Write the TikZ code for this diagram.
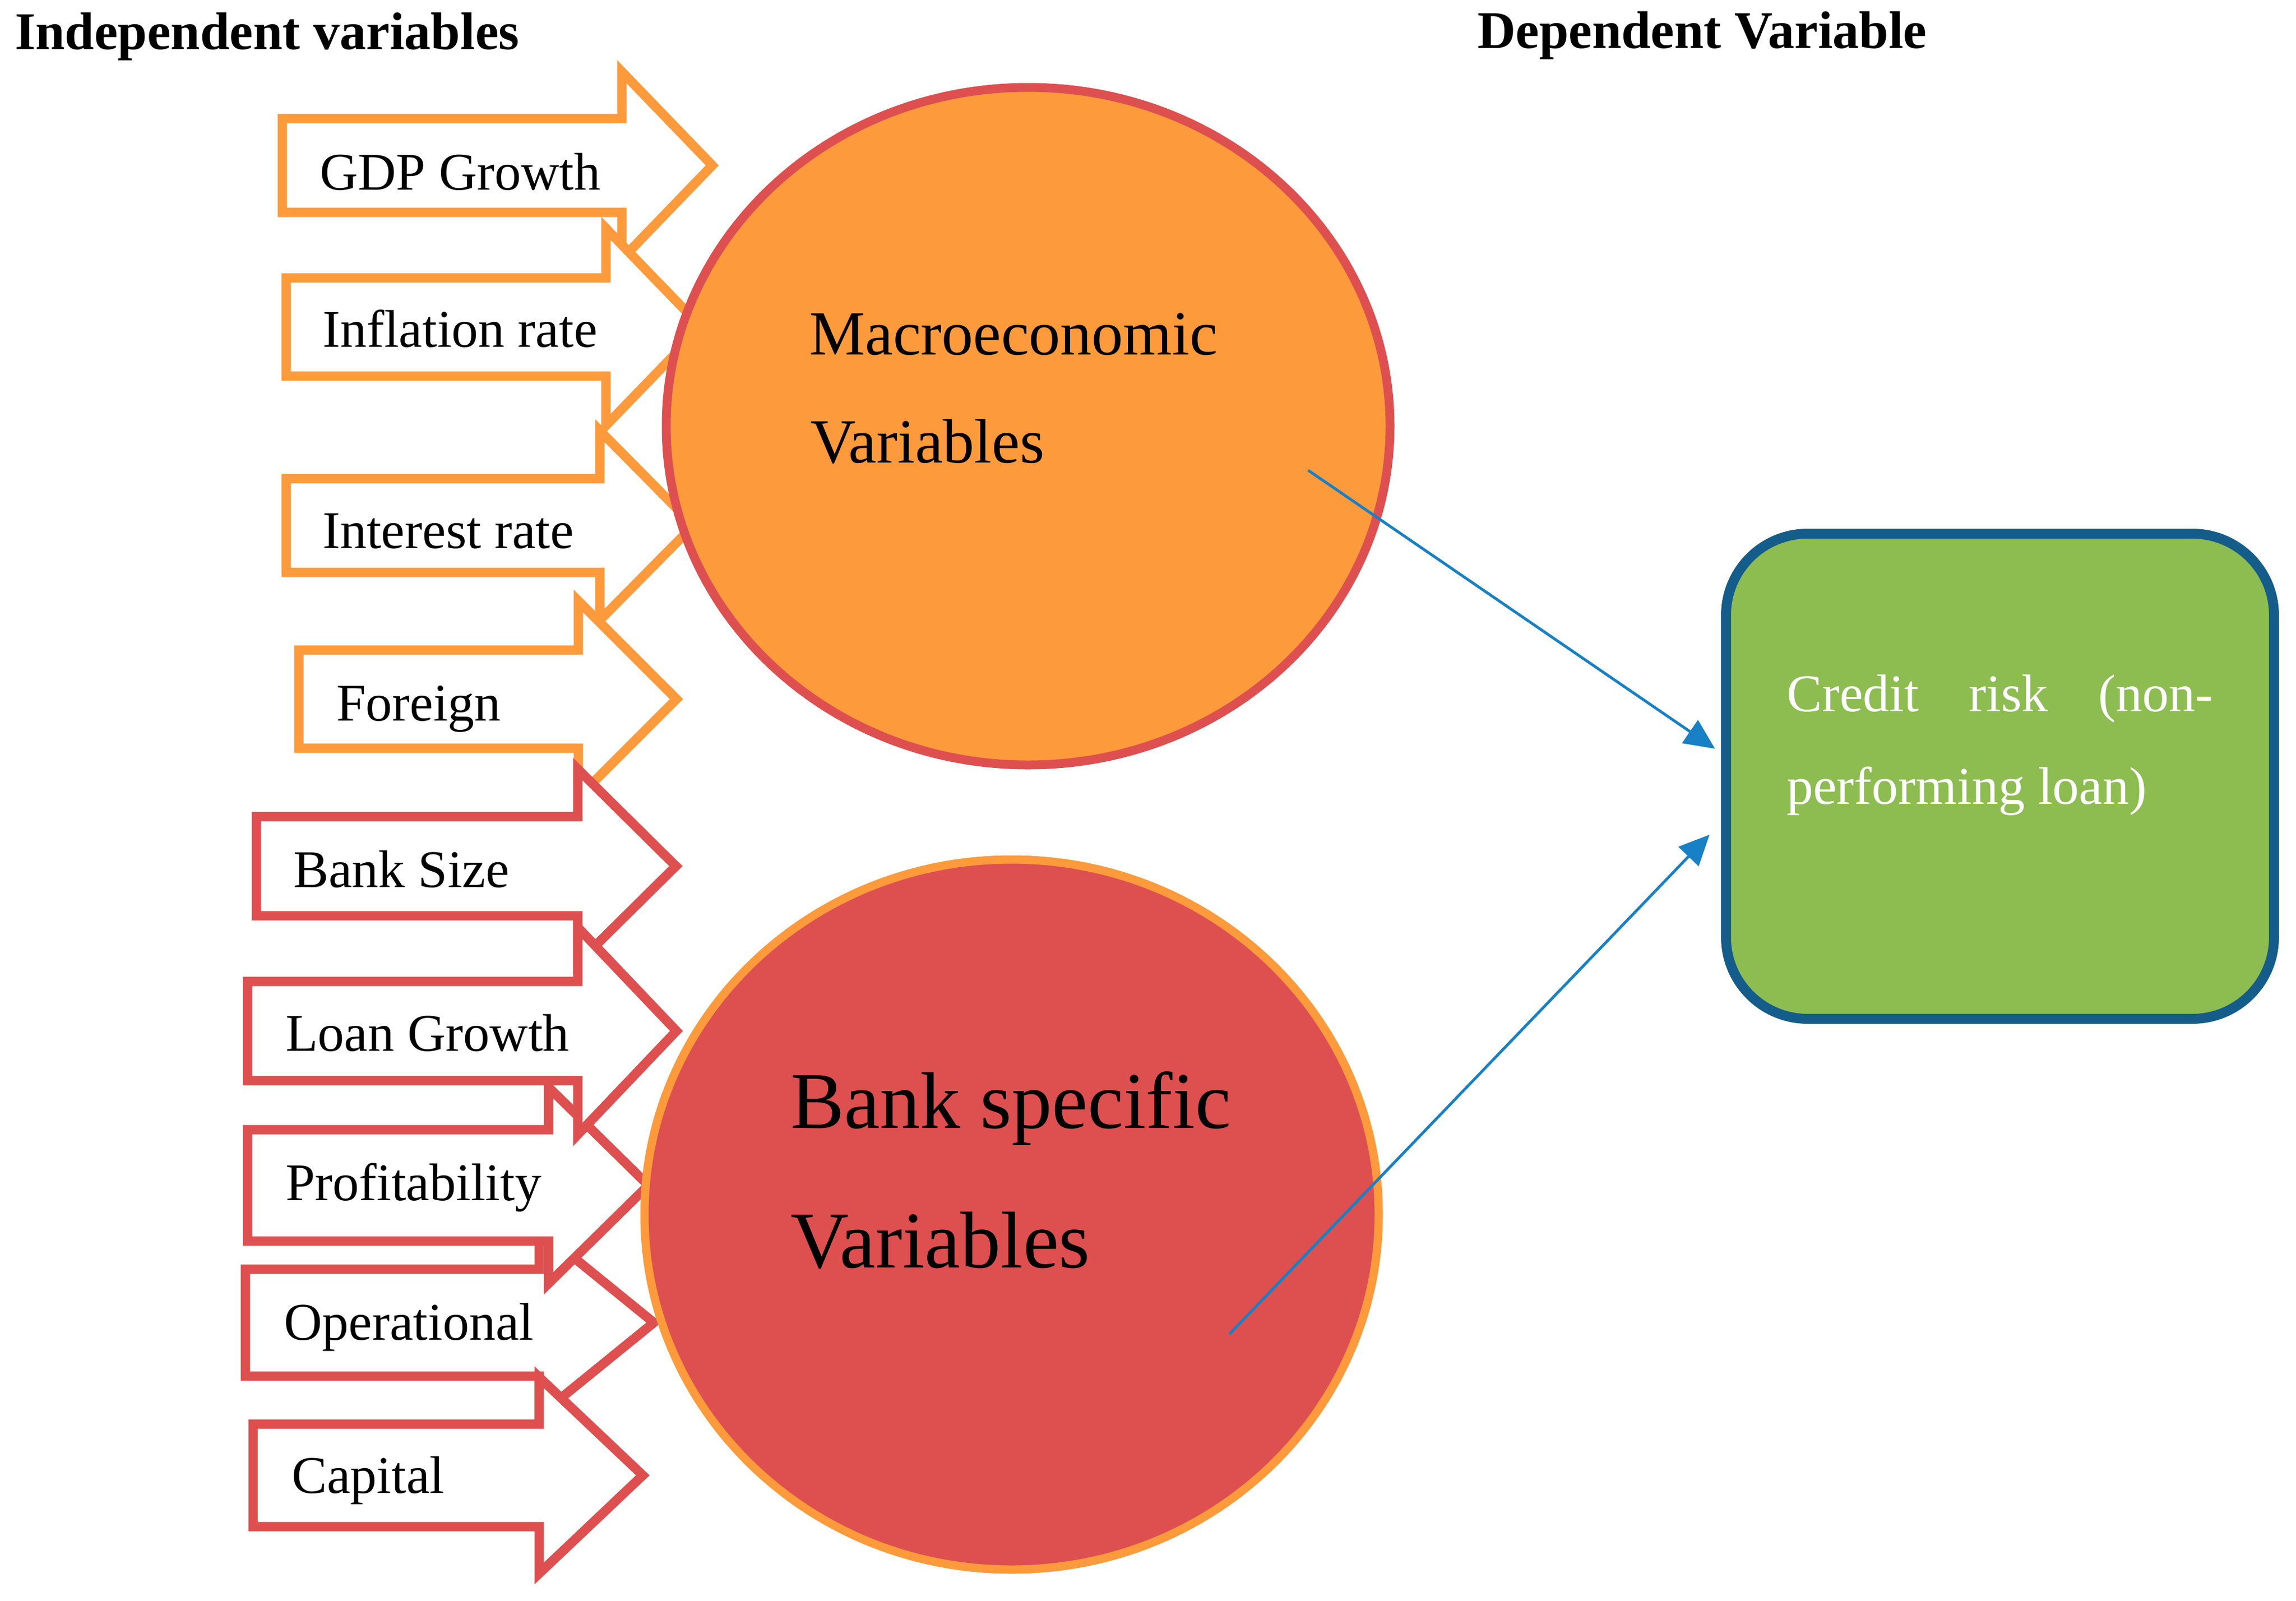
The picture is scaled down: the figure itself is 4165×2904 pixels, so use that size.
\documentclass[tikz,border=0pt]{standalone}
\usepackage{fontspec}
\setmainfont{Liberation Serif}
\usetikzlibrary{shapes.geometric,arrows.meta}
\definecolor{orng}{HTML}{FD9A3C}
\definecolor{rd}{HTML}{DD504F}
\definecolor{grn}{HTML}{8DBC51}
\definecolor{dblue}{HTML}{145D8B}
\definecolor{lblue}{HTML}{1880C4}
% #1 left, #2 back of head, #3 tip, #4 centre y, #5 shaft half height, #6 head half height, #7 colour
\newcommand\factorarrow[7]{%
  \draw[factor, draw=#7] (#1,#4-#5) -- (#2,#4-#5) -- (#2,#4-#6) -- (#3,#4)
    -- (#2,#4+#6) -- (#2,#4+#5) -- (#1,#4+#5) -- cycle;}
\begin{document}
\begin{tikzpicture}[x=1pt,y=-1pt,
  factor/.style={fill=white, line width=17pt, miter limit=10},
  lbl/.style={anchor=base west, inner sep=0pt, font=\fontsize{96}{115}\selectfont},
  title/.style={anchor=base west, inner sep=0pt, font=\bfseries\fontsize{96}{115}\selectfont},
  conn/.style={draw=lblue, line width=5pt, -{Triangle[length=55pt,width=50pt]}}]
\useasboundingbox (0,0) rectangle (4165,2904);

\node[title] (indep) at (27,89) {Independent variables};
\node[title] (dep) at (2680,88) {Dependent Variable};

\factorarrow{512}{1128}{1292}{300}{85}{170}{orng}
\node[lbl] (gdp) at (580,344) {GDP Growth};
\factorarrow{519}{1099}{1272}{593}{89}{179}{orng}
\node[lbl] (infl) at (585,629) {Inflation rate};
\factorarrow{519}{1088}{1258}{953}{85}{172}{orng}
\node[lbl] (intr) at (585,994) {Interest rate};
\factorarrow{542}{1049}{1227}{1268}{89}{178}{orng}
\node[lbl] (forg) at (610,1307) {Foreign};

\factorarrow{465}{1048}{1226}{1571}{90}{176}{rd}
\node[lbl] (bsize) at (532,1609) {Bank Size};
\factorarrow{445}{978}{1186}{2399}{97}{169}{rd}
\node[lbl] (oper) at (515,2430) {Operational};
\factorarrow{449}{995}{1176}{2150}{101}{178}{rd}
\node[lbl] (prof) at (518,2177) {Profitability};
\factorarrow{449}{1048}{1227}{1870}{90}{188}{rd}
\node[lbl] (loan) at (518,1906) {Loan Growth};
\factorarrow{459}{978}{1166}{2676}{93}{178}{rd}
\node[lbl] (capi) at (529,2708) {Capital};

\node[ellipse, draw=rd, fill=orng, line width=16pt, inner sep=0pt,
      minimum width=1313pt, minimum height=1229pt] (macro) at (1865,773) {};
\node[ellipse, draw=orng, fill=rd, line width=15pt, inner sep=0pt,
      minimum width=1332pt, minimum height=1288pt] (bank) at (1835,2203) {};

\node[anchor=base west, inner sep=0pt, font=\fontsize{114}{130}\selectfont] (mt1) at (1468,643) {Macroeconomic};
\node[anchor=base west, inner sep=0pt, font=\fontsize{114}{130}\selectfont] (mt2) at (1470,839) {Variables};
\node[anchor=base west, inner sep=0pt, font=\fontsize{146}{170}\selectfont] (bt1) at (1434,2046) {Bank specific};
\node[anchor=base west, inner sep=0pt, font=\fontsize{146}{170}\selectfont] (bt2) at (1434,2299) {Variables};

\node[draw=dblue, fill=grn, line width=18pt, rounded corners=148pt, inner sep=0pt,
      minimum width=994pt, minimum height=880pt] (credit) at (3628,1408) {};
\node[lbl, text=white] (cr1) at (3241,1290) {\makebox[773pt][s]{Credit risk (non-}};
\node[lbl, text=white] (cr2) at (3241,1458) {performing loan)};

\coordinate (s1) at (2373,853);
\coordinate (e1) at (3111,1358);
\coordinate (s2) at (2230,2420);
\coordinate (e2) at (3101,1514);
\draw[conn] (s1) -- (e1);
\draw[conn] (s2) -- (e2);
\end{tikzpicture}
\end{document}
